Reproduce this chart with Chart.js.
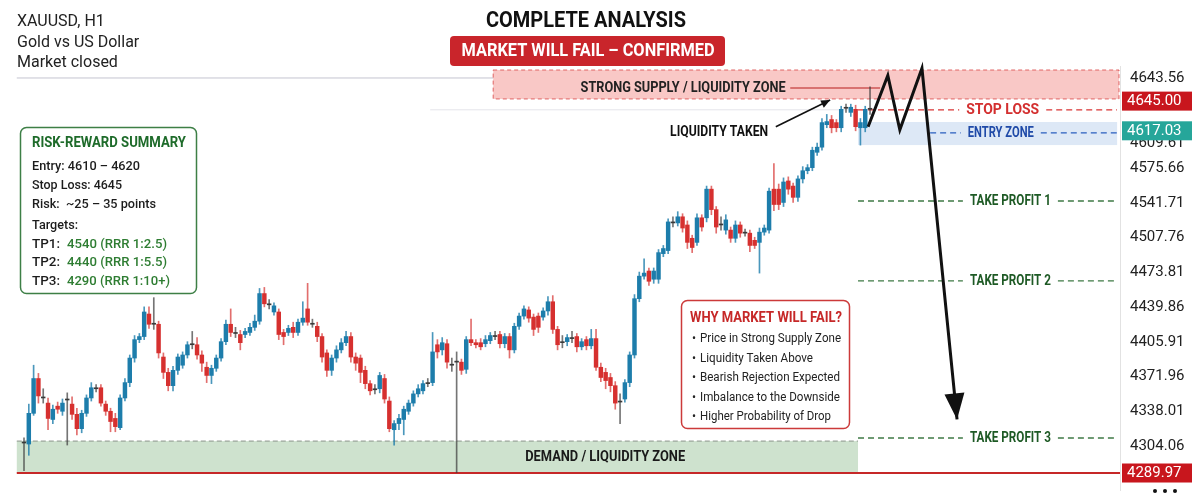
<!DOCTYPE html>
<html>
<head>
<meta charset="utf-8">
<script src="https://cdn.jsdelivr.net/npm/chart.js@4.4.1/dist/chart.umd.min.js"></script>
<style>
  html, body { margin: 0; padding: 0; background: #fff; }
</style>
</head>
<body>
<canvas id="chart" width="1199" height="499"></canvas>
<script>
// candles left to right (one hour each)
const opens = [
  4308, 4306, 4336, 4370, 4352, 4346, 4330, 4343, 4338, 4349,
  4345, 4335, 4321, 4336, 4351, 4360, 4361, 4345, 4338, 4331,
  4322, 4351, 4366, 4390, 4408, 4411, 4433, 4424, 4423, 4391,
  4376, 4363, 4378, 4383, 4393, 4403, 4403, 4393, 4381, 4373,
  4380, 4390, 4406, 4423, 4415, 4413, 4413, 4415, 4420, 4426,
  4453, 4443, 4435, 4435, 4415, 4415, 4420,
  4415, 4425, 4438, 4424, 4421, 4411, 4395, 4378, 4390, 4398,
  4405, 4411, 4391, 4390, 4378, 4365, 4360, 4360, 4370, 4348,
  4320, 4326, 4330, 4338, 4346, 4355, 4358, 4365, 4366, 4403,
  4398, 4404, 4384, 4386, 4386, 4379, 4408, 4405, 4405, 4404,
  4407, 4412, 4413, 4404, 4411, 4398, 4421, 4431, 4437, 4430,
  4431, 4430, 4436, 4445, 4418, 4406, 4406, 4410, 4411, 4401,
  4408, 4402, 4409, 4381, 4376, 4371, 4363, 4348, 4350, 4366, 4393,
  4448, 4470, 4475, 4467, 4467, 4492, 4495, 4523, 4522, 4528,
  4520, 4507, 4503, 4527, 4527, 4555, 4535, 4521, 4515, 4515,
  4507, 4520, 4513, 4512, 4505, 4503, 4513, 4515, 4555, 4555,
  4542, 4563, 4558, 4547, 4565, 4573, 4576, 4591, 4596, 4618,
  4623, 4620, 4615, 4634, 4630, 4633, 4615, 4615, 4633
];
const closes = [
  4307, 4336, 4370, 4353, 4351, 4331, 4340, 4340, 4346, 4350,
  4335, 4321, 4336, 4351, 4361, 4361, 4346, 4338, 4328, 4323,
  4351, 4366, 4390, 4408, 4411, 4435, 4423, 4423, 4395, 4376,
  4363, 4378, 4391, 4393, 4403, 4404, 4393, 4385, 4373, 4380,
  4390, 4406, 4423, 4415, 4414, 4405, 4416, 4420, 4426, 4453,
  4443, 4442, 4441, 4413, 4411, 4419, 4415,
  4425, 4429, 4425, 4423, 4411, 4391, 4378, 4390, 4398, 4405,
  4411, 4391, 4385, 4376, 4365, 4358, 4359, 4373, 4350, 4321,
  4326, 4331, 4340, 4346, 4355, 4360, 4365, 4366, 4396, 4396,
  4405, 4386, 4383, 4387, 4378, 4408, 4405, 4403, 4401, 4408,
  4412, 4411, 4404, 4411, 4398, 4421, 4431, 4438, 4429, 4418,
  4420, 4436, 4445, 4418, 4403, 4405, 4410, 4409, 4401, 4406,
  4402, 4409, 4381, 4371, 4368, 4363, 4346, 4347, 4366, 4393, 4448,
  4470, 4473, 4465, 4475, 4493, 4497, 4523, 4522, 4528, 4517,
  4503, 4498, 4527, 4518, 4555, 4535, 4518, 4520, 4525, 4507,
  4520, 4512, 4512, 4500, 4500, 4513, 4517, 4553, 4540, 4540,
  4562, 4555, 4547, 4565, 4573, 4576, 4593, 4596, 4620, 4621,
  4615, 4615, 4633, 4635, 4635, 4616, 4620, 4633, 4634
];
const highs = [
  4312, 4345, 4383, 4375, 4360, 4351, 4344, 4347, 4350, 4356,
  4352, 4341, 4339, 4354, 4366, 4364, 4364, 4348, 4341, 4336,
  4354, 4370, 4393, 4412, 4414, 4440, 4440, 4449, 4426, 4395,
  4380, 4382, 4394, 4396, 4406, 4416, 4410, 4397, 4386, 4383,
  4393, 4409, 4427, 4438, 4420, 4417, 4419, 4424, 4432, 4458,
  4459, 4447, 4444, 4438, 4418, 4422, 4425,
  4428, 4445, 4463, 4428, 4425, 4414, 4398, 4393, 4402, 4409,
  4416, 4415, 4395, 4393, 4382, 4368, 4364, 4376, 4374, 4352,
  4329, 4335, 4343, 4349, 4358, 4364, 4368, 4370, 4415, 4408,
  4410, 4408, 4390, 4396, 4389, 4411, 4428, 4408, 4409, 4412,
  4415, 4416, 4416, 4414, 4414, 4424, 4434, 4441, 4440, 4433,
  4434, 4439, 4450, 4451, 4421, 4412, 4413, 4416, 4414, 4409,
  4411, 4418, 4418, 4385, 4380, 4375, 4367, 4355, 4369, 4396, 4452,
  4474, 4487, 4478, 4478, 4496, 4500, 4526, 4528, 4533, 4531,
  4524, 4510, 4531, 4530, 4558, 4558, 4538, 4528, 4530, 4518,
  4524, 4523, 4516, 4515, 4508, 4517, 4520, 4556, 4580, 4560,
  4566, 4567, 4561, 4568, 4577, 4579, 4596, 4600, 4624, 4628,
  4627, 4623, 4636, 4638, 4638, 4637, 4624, 4636, 4655
];
const lows = [
  4280, 4295, 4334, 4346, 4346, 4320, 4326, 4336, 4334, 4305,
  4330, 4315, 4317, 4333, 4348, 4357, 4343, 4334, 4318, 4318,
  4320, 4348, 4362, 4386, 4405, 4408, 4419, 4418, 4390, 4370,
  4358, 4358, 4374, 4380, 4390, 4399, 4389, 4377, 4366, 4365,
  4377, 4387, 4403, 4411, 4410, 4398, 4410, 4412, 4417, 4423,
  4440, 4438, 4432, 4408, 4403, 4412, 4410,
  4412, 4422, 4422, 4420, 4406, 4386, 4372, 4373, 4386, 4395,
  4402, 4386, 4378, 4366, 4360, 4354, 4355, 4356, 4346, 4318,
  4305, 4320, 4315, 4335, 4343, 4352, 4355, 4362, 4363, 4390,
  4393, 4380, 4377, 4278, 4374, 4375, 4402, 4400, 4398, 4401,
  4404, 4408, 4400, 4400, 4390, 4395, 4418, 4428, 4425, 4412,
  4415, 4427, 4432, 4414, 4398, 4400, 4402, 4405, 4396, 4398,
  4398, 4399, 4378, 4367, 4360, 4357, 4340, 4326, 4347, 4362, 4390,
  4445, 4467, 4461, 4463, 4463, 4489, 4492, 4518, 4519, 4513,
  4497, 4493, 4500, 4514, 4523, 4530, 4512, 4515, 4511, 4503,
  4503, 4508, 4509, 4494, 4497, 4473, 4510, 4512, 4534, 4535,
  4538, 4550, 4542, 4543, 4561, 4570, 4573, 4588, 4593, 4615,
  4610, 4611, 4611, 4630, 4626, 4612, 4598, 4611, 4628
];

// projected path (bar index, price)
const projX = [175.6, 179.7, 182.2, 186.8, 194.1];
const projY = [4616, 4666, 4613, 4673, 4330];

// right axis
const yTickLabels = ['4643.56', '4609.61', '4575.66', '4541.71', '4507.76', '4473.81', '4439.86', '4405.91', '4371.96', '4338.01', '4304.06'];
const yTickAt = [4663.6, 4600, 4575.66, 4541.71, 4507.76, 4473.81, 4439.86, 4405.91, 4371.96, 4338.01, 4304.06];
const tagTexts = ['4645.00', '4617.03', '4289.97'];
const tagLevels = [4641, 4612, 4277.7];
const tagColors = ['#c8161d', '#26a69a', '#c8161d'];

// zones [fromBar, toBar, top, bottom]
const supplyZone = [97.6, 228, 4671.4, 4643.1];
const entryZone = [173.5, 227.4, 4620.6, 4598.1];
const demandZone = [-1.5, 173.5, 4308.9, 4277.7];

// trade levels
const levelNames = ['STOP LOSS', 'ENTRY ZONE', 'TAKE PROFIT 1', 'TAKE PROFIT 2', 'TAKE PROFIT 3'];
const levelPrices = [4632.5, 4609.9, 4543.4, 4465.3, 4311.9];
const levelFrom = [173.5, 188.5, 173.5, 173.5, 173.5];
const levelLabelAt = [203.6, 203.2, 205.2, 205.2, 205.2];
const levelLabelWidth = [73, 66, 81, 81, 81];
const levelColors = ['#d93535', '#2a5fc0', '#3f7a45', '#3f7a45', '#3f7a45'];
const levelTextColors = ['#d32f2f', '#1f4aa8', '#1e5a25', '#1e5a25', '#1e5a25'];

const riskTitle = 'RISK-REWARD SUMMARY';
const riskLines = ['Entry: 4610 \u2013 4620', 'Stop Loss: 4645', 'Risk:  ~25 \u2013 35 points', 'Targets:'];
const tpNames = ['TP1:', 'TP2:', 'TP3:'];
const tpValues = ['4540 (RRR 1:2.5)', '4440 (RRR 1:5.5)', '4290 (RRR 1:10+)'];
const whyTitle = 'WHY MARKET WILL FAIL?';
const whyLines = ['Price in Strong Supply Zone', 'Liquidity Taken Above', 'Bearish Rejection Expected', 'Imbalance to the Downside', 'Higher Probability of Drop'];

const FONT = 'Roboto, "Noto Sans", sans-serif';
const BULL = '#1d7dab';
const BEAR = '#d6302f';
const DOJI = '#3a3a3a';

function candleColor(i) {
    const d = closes[i] - opens[i];
    if (Math.abs(d) <= 1) return DOJI;
    return d > 0 ? BULL : BEAR;
}
const bodyColors = opens.map((o, i) => candleColor(i));
const wickColors = bodyColors.map(c => c === BULL ? 'rgba(29,125,171,0.8)' : c === BEAR ? 'rgba(214,48,47,0.7)' : 'rgba(58,58,58,0.7)');

function roundRect(ctx, x, y, w, h, r) {
    ctx.beginPath();
    ctx.moveTo(x + r, y);
    ctx.arcTo(x + w, y, x + w, y + h, r);
    ctx.arcTo(x + w, y + h, x, y + h, r);
    ctx.arcTo(x, y + h, x, y, r);
    ctx.arcTo(x, y, x + w, y, r);
    ctx.closePath();
}

function text(ctx, s, x, y, font, color, align, maxW) {
    ctx.font = font;
    ctx.fillStyle = color;
    ctx.textAlign = align || 'left';
    ctx.textBaseline = 'middle';
    if (maxW) ctx.fillText(s, x, y, maxW);
    else ctx.fillText(s, x, y);
}

function arrowHead(ctx, x0, y0, x1, y1, len, half) {
    const a = Math.atan2(y1 - y0, x1 - x0);
    ctx.beginPath();
    ctx.moveTo(x1, y1);
    ctx.lineTo(x1 - len * Math.cos(a) + half * Math.sin(a), y1 - len * Math.sin(a) - half * Math.cos(a));
    ctx.lineTo(x1 - len * Math.cos(a) - half * Math.sin(a), y1 - len * Math.sin(a) + half * Math.cos(a));
    ctx.closePath();
    ctx.fill();
}

const overlay = {
    id: 'overlay',
    beforeDatasetsDraw(chart) {
        const { ctx } = chart;
        const x = chart.scales.x, y = chart.scales.y;
        ctx.save();

        // header separator and faint last-price line
        ctx.strokeStyle = '#c4c4d0';
        ctx.lineWidth = 1;
        ctx.beginPath();
        ctx.moveTo(x.getPixelForValue(-1.5), y.getPixelForValue(4663.6));
        ctx.lineTo(x.getPixelForValue(supplyZone[0]), y.getPixelForValue(4663.6));
        ctx.stroke();
        ctx.strokeStyle = '#e4e4ea';
        ctx.beginPath();
        ctx.moveTo(x.getPixelForValue(84.5), y.getPixelForValue(4632.5));
        ctx.lineTo(x.getPixelForValue(173.5), y.getPixelForValue(4632.5));
        ctx.stroke();

        // supply zone
        let x0 = x.getPixelForValue(supplyZone[0]), x1 = x.getPixelForValue(supplyZone[1]) - 1;
        let y0 = y.getPixelForValue(supplyZone[2]), y1 = y.getPixelForValue(supplyZone[3]);
        ctx.fillStyle = 'rgba(240,110,105,0.38)';
        ctx.fillRect(x0, y0, x1 - x0, y1 - y0);
        ctx.setLineDash([4, 3]);
        ctx.strokeStyle = 'rgba(215,60,60,0.75)';
        ctx.strokeRect(x0, y0, x1 - x0, y1 - y0);

        // entry zone
        x0 = x.getPixelForValue(entryZone[0]); x1 = x.getPixelForValue(entryZone[1]);
        y0 = y.getPixelForValue(entryZone[2]); y1 = y.getPixelForValue(entryZone[3]);
        ctx.fillStyle = 'rgba(120,165,220,0.25)';
        ctx.fillRect(x0, y0, x1 - x0, y1 - y0);

        // demand zone
        x0 = x.getPixelForValue(demandZone[0]); x1 = x.getPixelForValue(demandZone[1]);
        y0 = y.getPixelForValue(demandZone[2]); y1 = y.getPixelForValue(demandZone[3]);
        ctx.fillStyle = 'rgba(125,180,125,0.38)';
        ctx.fillRect(x0, y0, x1 - x0, y1 - y0);
        ctx.strokeStyle = '#8a948a';
        ctx.setLineDash([5, 3]);
        ctx.beginPath();
        ctx.moveTo(x0, y0);
        ctx.lineTo(x1, y0);
        ctx.stroke();
        ctx.setLineDash([]);
        ctx.strokeStyle = '#c62828';
        ctx.lineWidth = 2;
        ctx.beginPath();
        ctx.moveTo(x0, y1);
        ctx.lineTo(chart.chartArea.right, y1);
        ctx.stroke();

        // trade levels with their labels
        ctx.lineWidth = 1.3;
        levelNames.forEach((name, i) => {
            const py = y.getPixelForValue(levelPrices[i]);
            const lx = x.getPixelForValue(levelLabelAt[i]);
            const a = x.getPixelForValue(levelFrom[i]), b = chart.chartArea.right - 3;
            const w = levelLabelWidth[i];
            ctx.strokeStyle = levelColors[i];
            ctx.setLineDash([6, 4]);
            ctx.beginPath();
            ctx.moveTo(a, py); ctx.lineTo(lx - w / 2 - 7, py);
            ctx.moveTo(lx + w / 2 + 7, py); ctx.lineTo(b, py);
            ctx.stroke();
            ctx.setLineDash([]);
            text(ctx, name, lx, py, 'bold 15px ' + FONT, levelTextColors[i], 'center', w);
        });

        // supply label connector
        ctx.strokeStyle = '#b71c1c';
        ctx.lineWidth = 1.2;
        ctx.beginPath();
        ctx.moveTo(x.getPixelForValue(159.4), y.getPixelForValue(4653.8));
        ctx.lineTo(x.getPixelForValue(178.1), y.getPixelForValue(4653.8));
        ctx.stroke();
        ctx.restore();
    },
    afterDatasetsDraw(chart) {
        const { ctx } = chart;
        const x = chart.scales.x, y = chart.scales.y;
        ctx.save();

        // arrow head on projected path
        const n = projX.length;
        ctx.fillStyle = '#111';
        arrowHead(ctx,
            x.getPixelForValue(projX[n - 2]), y.getPixelForValue(projY[n - 2]),
            x.getPixelForValue(projX[n - 1]), y.getPixelForValue(projY[n - 1]), 26, 10);

        // liquidity taken arrow
        const ax0 = x.getPixelForValue(156.4), ay0 = y.getPixelForValue(4616);
        const ax1 = x.getPixelForValue(167.7), ay1 = y.getPixelForValue(4642);
        ctx.strokeStyle = '#111';
        ctx.lineWidth = 1.6;
        ctx.beginPath();
        ctx.moveTo(ax0, ay0); ctx.lineTo(ax1, ay1);
        ctx.stroke();
        arrowHead(ctx, ax0, ay0, ax1, ay1, 9, 4);

        // zone labels
        text(ctx, 'STRONG SUPPLY / LIQUIDITY ZONE', x.getPixelForValue(137.1), y.getPixelForValue(4653.8), 'bold 14px ' + FONT, '#222', 'center', 205);
        text(ctx, 'LIQUIDITY TAKEN', x.getPixelForValue(144.6), y.getPixelForValue(4610), 'bold 14px ' + FONT, '#111', 'center', 98);
        text(ctx, 'DEMAND / LIQUIDITY ZONE', x.getPixelForValue(120.9), y.getPixelForValue(4292.4), 'bold 14px ' + FONT, '#1a1a1a', 'center', 160);

        // risk-reward box
        ctx.fillStyle = '#fff';
        roundRect(ctx, 20.5, 127.5, 176, 166, 6);
        ctx.fill();
        ctx.strokeStyle = '#3d7f46';
        ctx.lineWidth = 1.5;
        ctx.stroke();
        text(ctx, riskTitle, 32, 143, 'bold 15px ' + FONT, '#1e6b2a', 'left', 154);
        const ry = [167, 186, 205, 226];
        const rw = [108, 90, 124, 46];
        riskLines.forEach((s, i) => text(ctx, s, 32, ry[i], '500 13.5px ' + FONT, '#1c1c1c', 'left', rw[i]));
        const ty = [245, 263, 282];
        tpNames.forEach((s, i) => {
            text(ctx, s, 32, ty[i], '500 13.5px ' + FONT, '#1c1c1c', 'left', 28);
            text(ctx, tpValues[i], 67, ty[i], '500 13.5px ' + FONT, '#2e7d32', 'left', i === 2 ? 103 : 100);
        });

        // why box
        ctx.fillStyle = '#fff';
        roundRect(ctx, 681.5, 300.5, 168, 128, 6);
        ctx.fill();
        ctx.strokeStyle = '#cc3a3a';
        ctx.lineWidth = 1.5;
        ctx.stroke();
        text(ctx, whyTitle, 690, 318, 'bold 15px ' + FONT, '#c62828', 'left', 152);
        const ww = [141, 113, 140, 140, 131];
        whyLines.forEach((s, i) => {
            const ly = 339 + i * 19.5;
            text(ctx, '\u2022', 692, ly, '12px ' + FONT, '#222');
            text(ctx, s, 700, ly, '12.5px ' + FONT, '#222', 'left', ww[i]);
        });
        ctx.restore();
    },
    afterDraw(chart) {
        const { ctx } = chart;
        const y = chart.scales.y;
        ctx.save();
        // price tags on the axis
        tagTexts.forEach((s, i) => {
            const py = y.getPixelForValue(tagLevels[i]);
            ctx.fillStyle = tagColors[i];
            ctx.fillRect(1122, py - 9.5, 70, 19);
            text(ctx, s, 1127, py, '15px ' + FONT, '#fff');
        });
        // dots menu
        ctx.fillStyle = '#111';
        [1155, 1165, 1175].forEach(dx => {
            ctx.beginPath(); ctx.arc(dx, 491, 2, 0, Math.PI * 2); ctx.fill();
        });

        // header texts
        text(ctx, 'XAUUSD, H1', 17, 22, '16px ' + FONT, '#222');
        text(ctx, 'Gold vs US Dollar', 17, 43, '16px ' + FONT, '#222');
        text(ctx, 'Market closed', 17, 63, '16px ' + FONT, '#222');
        text(ctx, 'COMPLETE ANALYSIS', 586, 21, 'bold 22px ' + FONT, '#111', 'center', 200);
        ctx.fillStyle = '#c9252b';
        roundRect(ctx, 450, 36, 275, 30, 4);
        ctx.fill();
        text(ctx, 'MARKET WILL FAIL \u2013 CONFIRMED', 588, 51.5, 'bold 19px ' + FONT, '#fff', 'center', 253);
        ctx.restore();
    }
};

const idx = opens.map((o, i) => i);

new Chart(document.getElementById('chart').getContext('2d'), {
    type: 'bar',
    data: {
        datasets: [
            {
                type: 'line',
                order: 0,
                data: projX.map((v, i) => ({ x: v, y: projY[i] })),
                borderColor: '#111',
                borderWidth: 3,
                borderJoinStyle: 'miter',
                pointRadius: 0,
                tension: 0,
                clip: false,
            },
            {
                order: 1,
                data: idx.map(i => ({ x: i, y: [opens[i], closes[i]] })),
                backgroundColor: bodyColors,
                barThickness: 3.8,
                grouped: false,
                borderWidth: 0,
            },
            {
                order: 2,
                data: idx.map(i => ({ x: i, y: [lows[i], highs[i]] })),
                backgroundColor: wickColors,
                barThickness: 1,
                grouped: false,
                borderWidth: 0,
            },
        ],
    },
    options: {
        responsive: false,
        animation: false,
        devicePixelRatio: 1,
        layout: { padding: { left: 17, top: 66, right: 0, bottom: 9 } },
        plugins: { legend: { display: false }, tooltip: { enabled: false } },
        scales: {
            x: {
                type: 'linear',
                min: -1.456,
                max: 228,
                offset: false,
                display: false,
            },
            y: {
                position: 'right',
                min: 4261.1,
                max: 4675.3,
                afterFit(scale) {
                    scale.width = 79;
                    scale.paddingTop = 0;
                    scale.paddingBottom = 0;
                },
                afterBuildTicks(scale) { scale.ticks = yTickAt.map(v => ({ value: v })); },
                ticks: {
                    autoSkip: false,
                    padding: 10,
                    color: '#222',
                    font: { family: FONT, size: 15 },
                    callback: (v, i) => yTickLabels[i],
                },
                grid: { display: false, drawTicks: false },
                border: { display: true, color: '#e2e2e2' },
            },
        },
    },
    plugins: [overlay],
});
</script>
</body>
</html>
